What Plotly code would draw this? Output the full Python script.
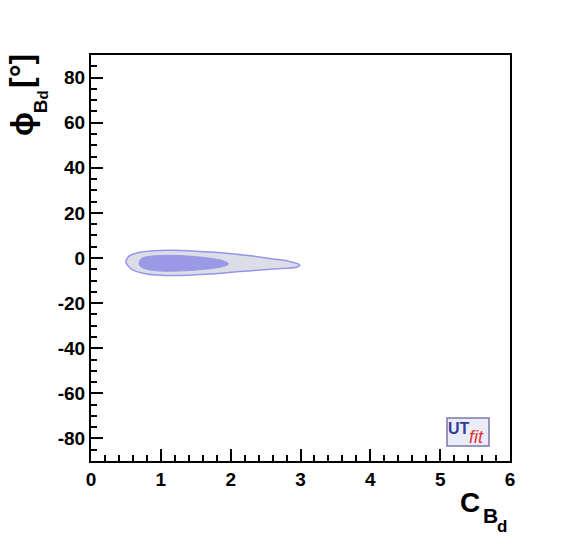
import plotly.graph_objects as go

# contour boundaries (C_Bd, phi_Bd in degrees)
outer_x = [0.50, 0.535, 0.61, 0.85, 1.18, 1.51, 1.90, 2.28, 2.61, 2.85, 2.99,
           2.95, 2.61, 2.13, 1.66, 1.18, 0.80, 0.58, 0.51, 0.50]
outer_y = [-1.6, 0.6, 1.8, 3.1, 3.4, 3.0, 2.2, 1.0, -0.4, -1.6, -3.1,
           -4.0, -4.9, -6.0, -7.2, -7.8, -7.1, -4.9, -2.6, -1.6]

inner_x = [0.69, 0.73, 0.85, 1.13, 1.42, 1.70, 1.90, 1.97,
           1.90, 1.66, 1.32, 0.94, 0.75, 0.69, 0.69]
inner_y = [-1.9, -0.1, 0.8, 1.2, 0.8, -0.1, -1.3, -2.6,
           -3.7, -4.9, -5.7, -5.7, -4.5, -3.1, -1.9]

x_range = [0, 6]
y_range = [-90, 90]
x_ticks = [0, 1, 2, 3, 4, 5, 6]
y_ticks = [-80, -60, -40, -20, 0, 20, 40, 60, 80]
y_labels = ['-80', '-60', '-40', '-20', '0', '20', '40', '60', '80']

font = "Liberation Sans, Arial, sans-serif"

fig = go.Figure()
fig.add_trace(go.Scatter(x=outer_x, y=outer_y, mode='lines', fill='toself',
                         fillcolor='rgb(221,221,231)',
                         line=dict(color='rgb(150,150,235)', width=1.5, shape='spline'),
                         hoverinfo='skip', showlegend=False))
fig.add_trace(go.Scatter(x=inner_x, y=inner_y, mode='lines', fill='toself',
                         fillcolor='rgb(153,153,230)',
                         line=dict(color='rgb(153,153,230)', width=1, shape='spline'),
                         hoverinfo='skip', showlegend=False))

axis_common = dict(showgrid=False, zeroline=False, showline=True, mirror=True,
                   linecolor='black', linewidth=2, ticks='inside', ticklen=12,
                   tickwidth=2, tickcolor='black',
                   tickfont=dict(family=font, size=19, color='black', weight='bold'))

fig.update_xaxes(range=x_range, tickvals=x_ticks,
                 minor=dict(dtick=0.2, ticks='inside', ticklen=6, tickwidth=1.5,
                            tickcolor='black'),
                 **axis_common)
fig.update_yaxes(range=y_range, tickvals=y_ticks, ticktext=y_labels,
                 minor=dict(dtick=5, ticks='inside', ticklen=6, tickwidth=1.5,
                            tickcolor='black'),
                 **axis_common)

bold = lambda s: dict(family=font, size=s, color='black', weight='bold')

# x axis title C_{B_d}
fig.add_annotation(xref='paper', yref='paper', x=0.9045, y=-0.101, xanchor='center',
                   yanchor='middle', text='C', showarrow=False, font=bold(28))
fig.add_annotation(xref='paper', yref='paper', x=0.9523, y=-0.1342, xanchor='center',
                   yanchor='middle', text='B', showarrow=False, font=bold(21))
fig.add_annotation(xref='paper', yref='paper', x=0.9821, y=-0.1613, xanchor='center',
                   yanchor='middle', text='d', showarrow=False, font=bold(17))

# y axis title phi_{B_d} [deg]
fig.add_annotation(xref='paper', yref='paper', x=-0.166, y=0.831, xanchor='center',
                   yanchor='middle', text='ϕ', showarrow=False, textangle=-90, font=bold(32))
fig.add_annotation(xref='paper', yref='paper', x=-0.1217, y=0.874, xanchor='center',
                   yanchor='middle', text='B', showarrow=False, textangle=-90, font=bold(19))
fig.add_annotation(xref='paper', yref='paper', x=-0.1146, y=0.9027, xanchor='center',
                   yanchor='middle', text='d', showarrow=False, textangle=-90, font=bold(15))
fig.add_annotation(xref='paper', yref='paper', x=-0.167, y=0.9606, xanchor='center',
                   yanchor='middle', text='[°]', showarrow=False, textangle=-90, font=bold(32))

# UTfit logo
fig.add_shape(type='rect', xref='paper', yref='paper', x0=0.8496, x1=0.9499, y0=0.0369, y1=0.1059,
              fillcolor='rgb(236,236,248)', line=dict(color='rgb(120,120,170)', width=1.5))
fig.add_annotation(xref='paper', yref='paper', x=0.8771, y=0.0800, xanchor='center',
                   yanchor='middle', text='UT', showarrow=False,
                   font=dict(family=font, size=16, color='#2e3e98', weight='bold'))
fig.add_annotation(xref='paper', yref='paper', x=0.9212, y=0.0603, xanchor='center',
                   yanchor='middle', text='<i>fit</i>', showarrow=False,
                   font=dict(family=font, size=18, color='#e03535'))

fig.update_layout(width=559, height=535, plot_bgcolor='white', paper_bgcolor='white',
                  margin=dict(l=83, r=57, t=47, b=82))

fig.write_html("out.html")
